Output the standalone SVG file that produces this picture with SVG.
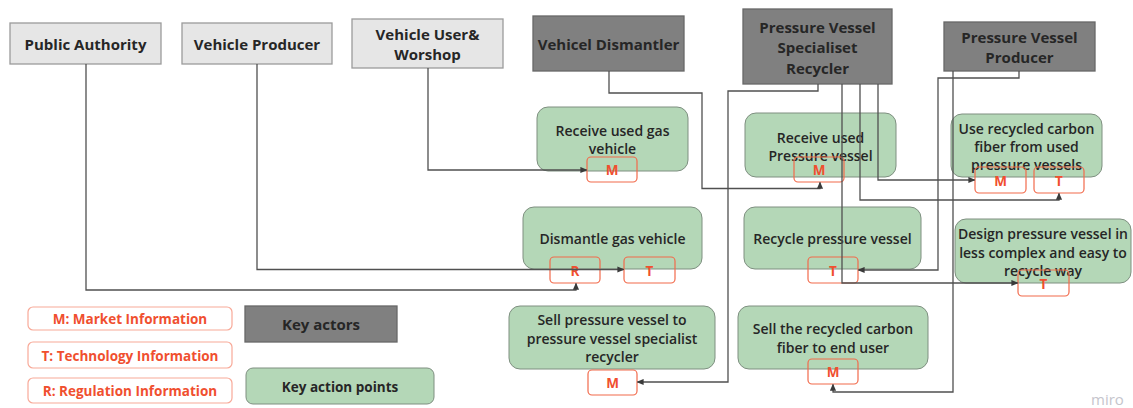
<svg xmlns="http://www.w3.org/2000/svg" width="1133" height="408" viewBox="0 0 1133 408">
  <defs>
    <marker id="arrow" viewBox="0 0 8 8" refX="7" refY="4" markerWidth="7" markerHeight="7" markerUnits="userSpaceOnUse" orient="auto">
      <path d="M0,0.5 L8,4 L0,7.5 z" fill="#3a3a3a"/>
    </marker>
    <style>
      text { font-family: "Open Sans", "Noto Sans", "Liberation Sans", sans-serif; font-weight: 600; text-anchor: middle; dominant-baseline: central; }
      .actor-light { fill: #e6e6e6; stroke: #9b9b9b; stroke-width: 1.3; }
      .actor-dark { fill: #808080; stroke: #676767; stroke-width: 1.3; }
      .action { fill: #b4d7b7; stroke: #7e8f80; stroke-width: 1; }
      .tag { fill: none; stroke: #f26a4b; stroke-width: 1.2; }
      .legend-tag { fill: #ffffff; stroke: #f8a998; stroke-width: 1.2; }
      .t-actor { font-size: 15px; font-weight: 700; fill: #262626; }
      .t-action { font-size: 14px; fill: #262626; }
      .t-key { font-size: 13.5px; font-weight: 700; fill: #262626; }
      .t-tag { font-size: 13.5px; font-weight: 700; fill: #f04f2f; }
      .t-legend { font-size: 13.5px; font-weight: 700; fill: #f04f2f; }
      .link { fill: none; stroke: #505050; stroke-width: 1.3; marker-end: url(#arrow); }
      .watermark { font-size: 15px; font-weight: 400; fill: #c5c5cc; text-anchor: start; }
    </style>
  </defs>
  <rect width="1133" height="408" fill="#ffffff"/>

  <!-- actors -->
  <g id="public-authority">
    <rect class="actor-light" x="10" y="23" width="151" height="41"/>
    <text class="t-actor" x="85.5" y="43.5">Public Authority</text>
  </g>
  <g id="vehicle-producer">
    <rect class="actor-light" x="182" y="23" width="150" height="41"/>
    <text class="t-actor" x="257" y="43.5">Vehicle Producer</text>
  </g>
  <g id="vehicle-user">
    <rect class="actor-light" x="352" y="19" width="151" height="49"/>
    <text class="t-actor" x="427.5" y="33.5">Vehicle User&amp;</text>
    <text class="t-actor" x="427.5" y="53.5">Worshop</text>
  </g>
  <g id="vehicle-dismantler">
    <rect class="actor-dark" x="533" y="16" width="151" height="55"/>
    <text class="t-actor" x="608.5" y="43.5">Vehicel Dismantler</text>
  </g>
  <g id="pv-recycler">
    <rect class="actor-dark" x="743" y="9" width="149" height="75"/>
    <text class="t-actor" x="817.5" y="26.5">Pressure Vessel</text>
    <text class="t-actor" x="817.5" y="47">Specialiset</text>
    <text class="t-actor" x="817.5" y="67.5">Recycler</text>
  </g>
  <g id="pv-producer">
    <rect class="actor-dark" x="944" y="22" width="151" height="49"/>
    <text class="t-actor" x="1019.5" y="36.5">Pressure Vessel</text>
    <text class="t-actor" x="1019.5" y="57">Producer</text>
  </g>

  <!-- action points -->
  <g id="receive-gas-vehicle">
    <rect class="action" x="537" y="107" width="151" height="64" rx="11"/>
    <text class="t-action" x="612.5" y="130">Receive used gas</text>
    <text class="t-action" x="612.5" y="148">vehicle</text>
    <rect class="tag" x="587" y="157" width="50" height="25" rx="4"/>
    <text class="t-tag" x="612" y="170">M</text>
  </g>
  <g id="receive-pressure-vessel">
    <rect class="action" x="745" y="113" width="151" height="64" rx="11"/>
    <text class="t-action" x="820.5" y="137">Receive used</text>
    <text class="t-action" x="820.5" y="155">Pressure vessel</text>
    <rect class="tag" x="794" y="157" width="50" height="25" rx="4"/>
    <text class="t-tag" x="819" y="170">M</text>
  </g>
  <g id="use-recycled-fiber">
    <rect class="action" x="951" y="114" width="151" height="63" rx="11"/>
    <text class="t-action" x="1026.5" y="128">Use recycled carbon</text>
    <text class="t-action" x="1026.5" y="146">fiber from used</text>
    <text class="t-action" x="1026.5" y="164">pressure vessels</text>
    <rect class="tag" x="975" y="167" width="51" height="26" rx="4"/>
    <text class="t-tag" x="1000.5" y="181">M</text>
    <rect class="tag" x="1034" y="167" width="50" height="26" rx="4"/>
    <text class="t-tag" x="1059" y="181">T</text>
  </g>
  <g id="dismantle-gas-vehicle">
    <rect class="action" x="523" y="207" width="179" height="62" rx="11"/>
    <text class="t-action" x="612.5" y="238">Dismantle gas vehicle</text>
    <rect class="tag" x="550" y="257" width="50" height="26" rx="4"/>
    <text class="t-tag" x="575" y="271">R</text>
    <rect class="tag" x="624" y="257" width="51" height="26" rx="4"/>
    <text class="t-tag" x="649.5" y="271">T</text>
  </g>
  <g id="recycle-pressure-vessel">
    <rect class="action" x="744" y="207" width="177" height="62" rx="11"/>
    <text class="t-action" x="832.5" y="238">Recycle pressure vessel</text>
    <rect class="tag" x="808" y="257" width="50" height="26" rx="4"/>
    <text class="t-tag" x="833" y="271">T</text>
  </g>
  <g id="design-pressure-vessel">
    <rect class="action" x="955" y="219" width="176" height="64" rx="11"/>
    <text class="t-action" x="1043" y="233">Design pressure vessel in</text>
    <text class="t-action" x="1043" y="252">less complex and easy to</text>
    <text class="t-action" x="1043" y="270">recycle way</text>
    <rect class="tag" x="1018" y="270" width="51" height="26" rx="4"/>
    <text class="t-tag" x="1043.5" y="284">T</text>
  </g>
  <g id="sell-pressure-vessel">
    <rect class="action" x="509" y="306" width="206" height="63" rx="11"/>
    <text class="t-action" x="612" y="319">Sell pressure vessel to</text>
    <text class="t-action" x="612" y="338">pressure vessel specialist</text>
    <text class="t-action" x="612" y="356.5">recycler</text>
    <rect class="tag" x="588" y="370" width="49" height="25" rx="4"/>
    <text class="t-tag" x="612.5" y="383">M</text>
  </g>
  <g id="sell-recycled-fiber">
    <rect class="action" x="738" y="306" width="190" height="63" rx="11"/>
    <text class="t-action" x="833" y="328">Sell the recycled carbon</text>
    <text class="t-action" x="833" y="347">fiber to end user</text>
    <rect class="tag" x="808" y="359" width="50" height="25" rx="4"/>
    <text class="t-tag" x="833" y="372">M</text>
  </g>

  <!-- legend -->
  <g id="legend-market">
    <rect class="legend-tag" x="28" y="307" width="204" height="23" rx="5"/>
    <text class="t-legend" x="130" y="319">M: Market Information</text>
  </g>
  <g id="legend-technology">
    <rect class="legend-tag" x="28" y="342" width="204" height="26" rx="5"/>
    <text class="t-legend" x="130" y="355.5">T: Technology Information</text>
  </g>
  <g id="legend-regulation">
    <rect class="legend-tag" x="28" y="378" width="204" height="25" rx="5"/>
    <text class="t-legend" x="130" y="391">R: Regulation Information</text>
  </g>
  <g id="legend-actors">
    <rect class="actor-dark" x="245" y="306" width="152" height="36"/>
    <text class="t-actor" x="321" y="324">Key actors</text>
  </g>
  <g id="legend-actions">
    <rect class="action" x="246" y="368" width="188" height="36" rx="7"/>
    <text class="t-key" x="340" y="386.5">Key action points</text>
  </g>

  <!-- connectors -->
  <g id="connectors">
    <path class="link" d="M86,64 V290 H576 V283.5"/>
    <path class="link" d="M257,64 V269.5 H623.5"/>
    <path class="link" d="M428,68 V170 H586.5"/>
    <path class="link" d="M609,71 V93 H702 V188.5 H820 V182.5"/>
    <path class="link" d="M818,84 V91 H728 V382 H637.5"/>
    <path class="link" d="M842,84 V283 H1017.5"/>
    <path class="link" d="M860,84 V200 H1059 V193.5"/>
    <path class="link" d="M878,84 V180 H974.5"/>
    <path class="link" d="M1019,71 V78 H938 V270 H858.5"/>
    <path class="link" d="M953,71 V392 H833 V384.5"/>
  </g>

  <text class="watermark" x="1091" y="399">miro</text>
</svg>
